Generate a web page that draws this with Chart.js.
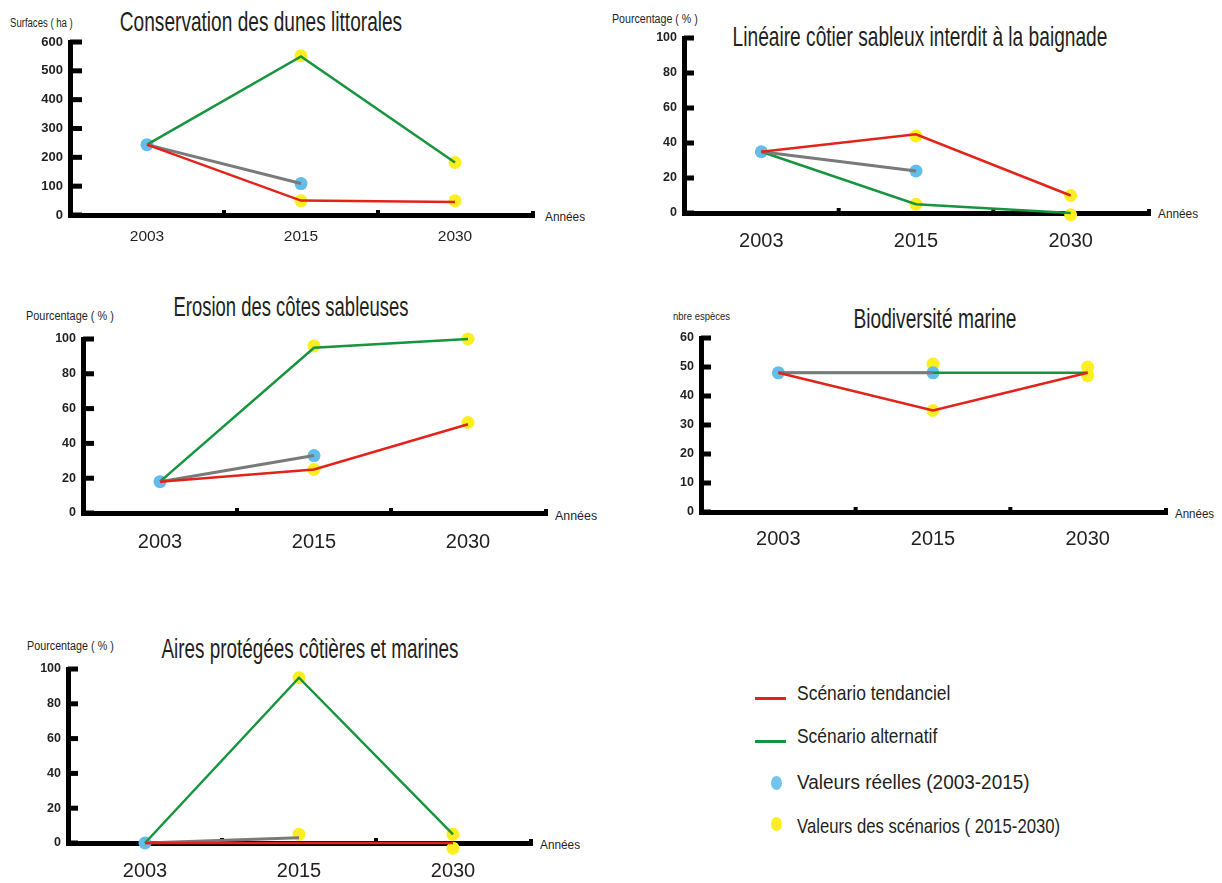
<!DOCTYPE html>
<html lang="fr">
<head>
<meta charset="utf-8">
<title>Scénarios littoraux</title>
<script src="https://cdn.jsdelivr.net/npm/chart.js@4.4.1/dist/chart.umd.min.js"></script>
<style>
  html, body { margin: 0; padding: 0; background: #fff; }
  body {
    width: 1222px; height: 883px; position: relative; overflow: hidden;
    font-family: 'Liberation Sans', Arial, sans-serif;
    color: #231f20;
  }
  canvas { position: absolute; }
  .t { position: absolute; white-space: nowrap; line-height: 1; }
  .c { transform-origin: 50% 50%; }
  .l { transform-origin: 0 50%; }
  .sw { position: absolute; }
</style>
</head>
<body>

<!-- titres (data-w : largeur visée, le texte est resserré à cette largeur) -->
<div class="t c" data-w="282" data-h="1.08" style="left:261px;top:21px;font-size:26px">Conservation des dunes littorales</div>
<div class="t c" data-w="375" data-h="1.08" style="left:920px;top:36px;font-size:26px">Linéaire côtier sableux interdit à la baignade</div>
<div class="t c" data-w="235" data-h="1.08" style="left:291px;top:306px;font-size:26px">Erosion des côtes sableuses</div>
<div class="t c" data-w="163" data-h="1.08" style="left:935px;top:318px;font-size:26px">Biodiversité marine</div>
<div class="t c" data-w="297" data-h="1.08" style="left:310px;top:648px;font-size:26px">Aires protégées côtières et marines</div>

<!-- unités -->
<div class="t l" data-w="63" style="left:10px;top:23px;font-size:12px">Surfaces ( ha )</div>
<div class="t l" data-w="86" style="left:612px;top:19px;font-size:12.5px">Pourcentage ( % )</div>
<div class="t l" data-w="88" style="left:26px;top:316px;font-size:12.5px">Pourcentage ( % )</div>
<div class="t l" data-w="57" style="left:673px;top:316px;font-size:11px">nbre espèces</div>
<div class="t l" data-w="87" style="left:27px;top:646px;font-size:12.5px">Pourcentage ( % )</div>

<div class="t l" data-w="40" style="left:545px;top:216px;font-size:13px">Années</div>
<div class="t l" data-w="40" style="left:1158px;top:213px;font-size:13px">Années</div>
<div class="t l" data-w="42" style="left:555px;top:515px;font-size:13px">Années</div>
<div class="t l" data-w="39" style="left:1175px;top:513px;font-size:13px">Années</div>
<div class="t l" data-w="40" style="left:540px;top:844px;font-size:13px">Années</div>

<!-- légende -->
<div class="sw" style="left:755px;top:697px;width:31px;height:3px;background:#e2231a"></div>
<div class="t l" data-w="153" style="left:797px;top:692px;font-size:21px">Scénario tendanciel</div>
<div class="sw" style="left:755px;top:740px;width:31px;height:3px;background:#16943e"></div>
<div class="t l" data-w="140" style="left:797px;top:735px;font-size:21px">Scénario alternatif</div>
<div class="sw" style="left:771px;top:776px;width:11px;height:14px;border-radius:50%;background:#72c5ee"></div>
<div class="t l" data-w="233" style="left:797px;top:781px;font-size:21px">Valeurs réelles (2003-2015)</div>
<div class="sw" style="left:771px;top:817px;width:11px;height:14px;border-radius:50%;background:#fcee21"></div>
<div class="t l" data-w="263" style="left:797px;top:825px;font-size:21px">Valeurs des scénarios ( 2015-2030)</div>

<script>
const years = ['2003', '2015', '2030'];

// Conservation des dunes littorales (ha)
const dunesReel = [244, 109, null];
const dunesTend = [244, 50, 45];
const dunesAlt = [244, 550, 182];
const dunesScenHaut = [null, 552, 182];
const dunesScenBas = [null, 49, 49];

// Linéaire côtier sableux interdit à la baignade (%)
const baignadeReel = [35, 24, null];
const baignadeTend = [35, 45, 10];
const baignadeAlt = [35, 5, 0];
const baignadeScenHaut = [null, 44, 10];
const baignadeScenBas = [null, 5, -1];

// Erosion des côtes sableuses (%)
const erosionReel = [18, 33, null];
const erosionTend = [18, 25, 51];
const erosionAlt = [18, 95, 100];
const erosionScenHaut = [null, 96, 100];
const erosionScenBas = [null, 25, 52];

// Biodiversité marine (nbre espèces)
const biodivReel = [48, 48, null];
const biodivTend = [48, 35, 48];
const biodivAlt = [48, 48, 48];
const biodivScenHaut = [null, 51, 50];
const biodivScenBas = [null, 35, 47];

// Aires protégées côtières et marines (%)
const airesReel = [0, 3, null];
const airesReelPts = [0, null, null];
const airesTend = [0, 0, 0];
const airesAlt = [0, 95, 5];
const airesScenHaut = [null, 95, 5];
const airesScenBas = [null, 5, -3];

const RED = '#e2231a', GREEN = '#16943e', GREY = '#7a7a7a';
const BLUE = '#62bdea', YELLOW = '#fcee21', TEXT = '#231f20';

// marge autour de la zone de tracé de chaque canvas
const PAD_L = 60, PAD_T = 20, PAD_R = 10, PAD_B = 45;

Chart.defaults.font.family = "'Liberation Sans', Arial, sans-serif";

// resserre les textes html à la largeur du modèle (police condensée absente)
document.querySelectorAll('.t[data-w]').forEach(el => {
  const sx = el.dataset.w / el.offsetWidth;
  const sy = el.dataset.h || 1;
  const base = el.classList.contains('c') ? 'translate(-50%, -50%)' : 'translateY(-50%)';
  el.style.transform = `${base} scale(${sx}, ${sy})`;
});

// petits traits d'axe vers l'intérieur, repères entre années, bout d'axe
const axisMarks = {
  id: 'axisMarks',
  beforeDatasetsDraw(chart, args, opts) {
    const { ctx, chartArea: { left, right, bottom }, scales: { x, y } } = chart;
    ctx.save();
    ctx.fillStyle = '#000';
    y.ticks.forEach(tk => {
      const py = y.getPixelForValue(tk.value);
      ctx.fillRect(left, py - 2.5, opts.tickLen, 5);
    });
    for (let i = 0; i < x.ticks.length - 1; i++) {
      const px = (x.getPixelForTick(i) + x.getPixelForTick(i + 1)) / 2;
      ctx.fillRect(px - 2, bottom - 5, 4, 4);
    }
    ctx.fillRect(right - 1, bottom - 4, 4, 7);
    ctx.restore();
  }
};

const panels = [
  { area: [70, 42, 532, 215], max: 600, step: 100, tickLen: 12, tickSize: 13, yearSize: 15.5, yearPad: 12,
    reel: dunesReel, reelPts: dunesReel, tend: dunesTend, alt: dunesAlt, haut: dunesScenHaut, bas: dunesScenBas },
  { area: [684, 38, 1148, 213], max: 100, step: 20, tickLen: 10, tickSize: 12.5, yearSize: 20, yearPad: 16.5,
    reel: baignadeReel, reelPts: baignadeReel, tend: baignadeTend, alt: baignadeAlt, haut: baignadeScenHaut, bas: baignadeScenBas },
  { area: [83, 339, 545, 513], max: 100, step: 20, tickLen: 11, tickSize: 12.5, yearSize: 20, yearPad: 17.5,
    reel: erosionReel, reelPts: erosionReel, tend: erosionTend, alt: erosionAlt, haut: erosionScenHaut, bas: erosionScenBas },
  { area: [701, 338, 1165, 512], max: 60, step: 10, tickLen: 10, tickSize: 12.5, yearSize: 20, yearPad: 15,
    reel: biodivReel, reelPts: biodivReel, tend: biodivTend, alt: biodivAlt, haut: biodivScenHaut, bas: biodivScenBas },
  { area: [68, 669, 530, 843], max: 100, step: 20, tickLen: 10, tickSize: 12.5, yearSize: 20, yearPad: 16.5,
    reel: airesReel, reelPts: airesReelPts, tend: airesTend, alt: airesAlt, haut: airesScenHaut, bas: airesScenBas }
];

function line(data, color, width, order) {
  return { data, borderColor: color, backgroundColor: color, borderWidth: width,
           pointRadius: 0, fill: false, tension: 0, order, clip: false };
}

function dots(data, color, order) {
  return { data, showLine: false, borderColor: color, backgroundColor: color,
           pointBackgroundColor: color, pointBorderWidth: 0, pointRadius: 6.5, order, clip: false };
}

function buildPanel(p) {
  const [l, t, r, b] = p.area;
  const cv = document.createElement('canvas');
  cv.width = r - l + PAD_L + PAD_R;
  cv.height = b - t + PAD_T + PAD_B;
  cv.style.left = (l - PAD_L) + 'px';
  cv.style.top = (t - PAD_T) + 'px';
  document.body.appendChild(cv);

  const axisGrid = { display: true, drawOnChartArea: false, drawTicks: false };
  const axisBorder = { display: true, color: '#000', width: 5 };

  new Chart(cv, {
    type: 'line',
    data: {
      labels: years,
      datasets: [
        line(p.tend, RED, 2.5, 1),
        line(p.reel, GREY, 3, 2),
        line(p.alt, GREEN, 2.5, 3),
        dots(p.reelPts, BLUE, 4),
        dots(p.haut, YELLOW, 5),
        dots(p.bas, YELLOW, 6)
      ]
    },
    options: {
      responsive: false,
      animation: false,
      events: [],
      layout: { padding: { top: PAD_T, right: PAD_R, bottom: 0, left: 0 } },
      plugins: {
        legend: { display: false },
        tooltip: { enabled: false },
        axisMarks: { tickLen: p.tickLen }
      },
      scales: {
        x: {
          offset: true,
          grid: axisGrid,
          border: axisBorder,
          ticks: { color: TEXT, font: { size: p.yearSize }, padding: p.yearPad, maxRotation: 0, autoSkip: false },
          afterFit: s => { s.height = PAD_B; }
        },
        y: {
          min: 0,
          max: p.max,
          grid: axisGrid,
          border: axisBorder,
          ticks: { stepSize: p.step, color: TEXT, font: { size: p.tickSize, weight: 'bold' }, padding: 7 },
          afterFit: s => { s.width = PAD_L; }
        }
      }
    },
    plugins: [axisMarks]
  });
}

panels.forEach(buildPanel);
</script>
</body>
</html>
